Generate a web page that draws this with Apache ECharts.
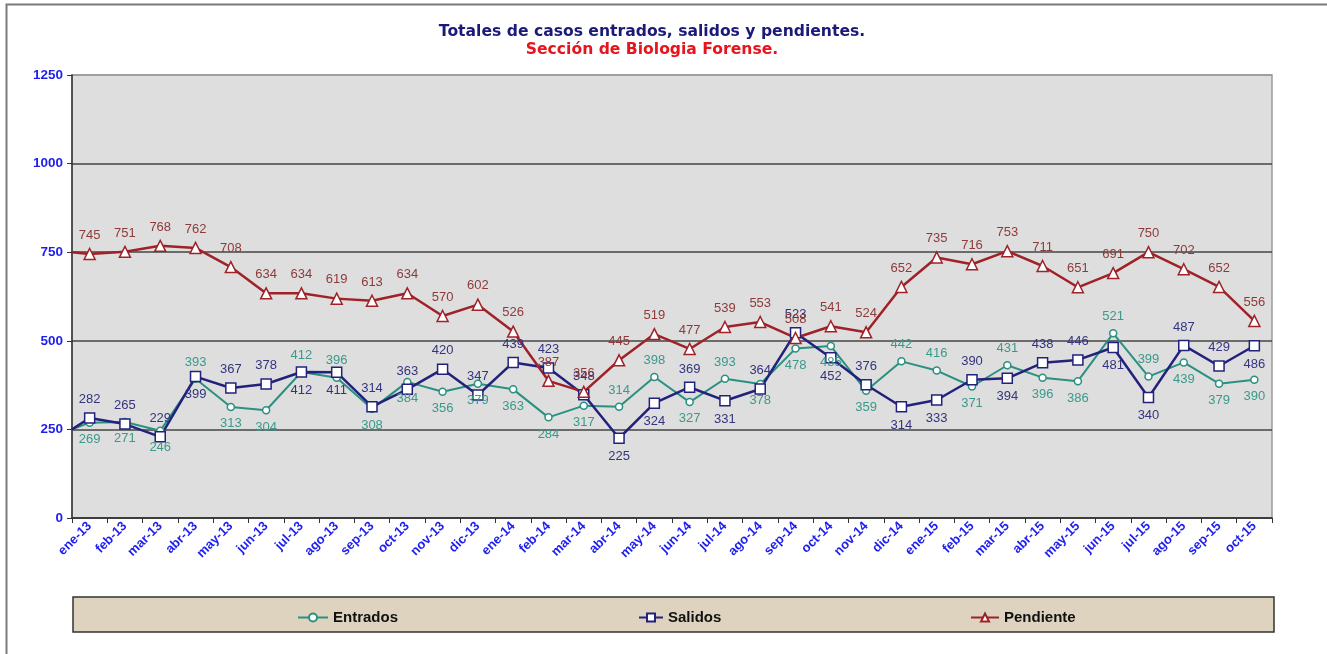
<!DOCTYPE html>
<html>
<head>
<meta charset="utf-8">
<script src="https://cdn.jsdelivr.net/npm/echarts@6/dist/echarts.min.js"></script>
<style>
    html, body { margin: 0; padding: 0; background: #fff; }
    #main { width: 1327px; height: 654px; }
</style>
</head>
<body>
<div id="main"></div>
<script>
var months = ["ene-13", "feb-13", "mar-13", "abr-13", "may-13", "jun-13", "jul-13", "ago-13", "sep-13", "oct-13", "nov-13", "dic-13",
    "ene-14", "feb-14", "mar-14", "abr-14", "may-14", "jun-14", "jul-14", "ago-14", "sep-14", "oct-14", "nov-14", "dic-14",
    "ene-15", "feb-15", "mar-15", "abr-15", "may-15", "jun-15", "jul-15", "ago-15", "sep-15", "oct-15"];

var entrados = [269, 271, 246, 393, 313, 304, 412, 396, 308, 384, 356, 379,
    363, 284, 317, 314, 398, 327, 393, 378, 478, 485, 359, 442,
    416, 371, 431, 396, 386, 521, 399, 439, 379, 390];
var salidos = [282, 265, 229, 399, 367, 378, 412, 411, 314, 363, 420, 347,
    439, 423, 348, 225, 324, 369, 331, 364, 523, 452, 376, 314,
    333, 390, 394, 438, 446, 481, 340, 487, 429, 486];
var pendiente = [745, 751, 768, 762, 708, 634, 634, 619, 613, 634, 570, 602,
    526, 387, 356, 445, 519, 477, 539, 553, 508, 541, 524, 652,
    735, 716, 753, 711, 651, 691, 750, 702, 652, 556];

// valor con el que cada línea arranca pegada al eje (mes anterior)
var entradosPrev = 250;
var salidosPrev = 250;
var pendientePrev = 750;

var yTicks = [0, 250, 500, 750, 1000, 1250];

// posición de cada etiqueta: a = arriba, b = abajo
var entradosPos = "bbbabbaabbbbbbbaababbbbaababbaabbb";
var salidosPos = "aaabaabbaaaaaaabbabaababbabaabbaab";

var labelFont = "'Liberation Sans', Arial, sans-serif";

function buildData(vals, prev, pos) {
    let d = [{ value: [0, prev], symbol: "none", label: { show: false } }];
    vals.forEach((v, i) => {
        let p = pos ? (pos[i] == "a" ? "top" : "bottom") : "top";
        d.push({ value: [i + 0.5, v], label: { position: p } });
    });
    return d;
}

function lineSeries(name, vals, prev, pos, color, labelColor, symbol, size, width) {
    return {
        name: name,
        type: "line",
        xAxisIndex: 1,
        data: buildData(vals, prev, pos),
        symbol: symbol,
        symbolSize: size,
        showAllSymbol: true,
        itemStyle: { color: "#fff", borderColor: color, borderWidth: 1.5 },
        lineStyle: { color: color, width: width },
        label: {
            show: true,
            color: labelColor,
            fontSize: 13,
            fontFamily: labelFont,
            distance: 6,
            formatter: p => p.value[1]
        }
    };
}

var chart = echarts.init(document.getElementById("main"));

var legendText = {
    fontFamily: "'Liberation Sans Narrow', 'Liberation Sans', Arial, sans-serif",
    fontWeight: "bold",
    fontSize: 15,
    color: "#111"
};

var titleFont = "'DejaVu Sans', Verdana, sans-serif";

var option = {
    animation: false,
    backgroundColor: "#fff",
    title: [
        {
            text: "Totales de casos entrados, salidos y pendientes.",
            left: 647, top: 19, textAlign: "center",
            textStyle: { color: "#1c1a78", fontSize: 15.6, fontWeight: "bold", fontFamily: titleFont }
        },
        {
            text: "Sección de Biologia Forense.",
            left: 647, top: 37, textAlign: "center",
            textStyle: { color: "#e8141c", fontSize: 15.6, fontWeight: "bold", fontFamily: titleFont }
        }
    ],
    graphic: [
        {
            type: "polyline", z: 0,
            shape: { points: [[6.5, 660], [6.5, 4.5], [1327, 4.5]] },
            style: { stroke: "#7a7a7a", lineWidth: 2, fill: null }
        },
        {
            type: "rect", z: 0,
            shape: { x: 73, y: 597, width: 1201, height: 35 },
            style: { fill: "#ddd3bf", stroke: "#333", lineWidth: 1.5 }
        }
    ],
    legend: [
        { data: ["Entrados"], left: 292, top: 605, itemWidth: 30, itemHeight: 10, itemGap: 4, z: 10, textStyle: legendText },
        { data: ["Salidos"], left: 633, top: 605, itemWidth: 24, itemHeight: 10, z: 10, textStyle: legendText },
        { data: ["Pendiente"], left: 965, top: 605, itemWidth: 28, itemHeight: 10, z: 10, textStyle: legendText }
    ],
    grid: {
        left: 72, right: 55, top: 75, bottom: 136,
        show: true,
        backgroundColor: "#dedede",
        borderColor: "#9a9a9a",
        borderWidth: 1.5
    },
    xAxis: [
        {
            type: "category",
            data: months,
            boundaryGap: true,
            axisLine: { lineStyle: { color: "#333", width: 1.5 } },
            axisTick: { show: true, length: 5, lineStyle: { color: "#333" } },
            axisLabel: {
                rotate: 45, interval: 0, margin: 6,
                color: "#1e1ef0", fontWeight: "bold", fontSize: 13, fontFamily: labelFont
            },
            splitLine: { show: false }
        },
        { type: "value", min: 0, max: months.length, show: false }
    ],
    yAxis: {
        type: "value",
        min: yTicks[0], max: yTicks[yTicks.length - 1], interval: 250,
        axisLine: { show: true, lineStyle: { color: "#333", width: 1.5 } },
        axisTick: { show: true, length: 5, lineStyle: { color: "#333" } },
        axisLabel: {
            color: "#1e1ef0", fontWeight: "bold", fontSize: 13.5, fontFamily: labelFont, margin: 9,
            formatter: v => String(v)
        },
        splitLine: { lineStyle: { color: ["#444", "#444", "#444", "#444", "#444", "#9a9a9a"], width: 1.5 } }
    },
    series: [
        lineSeries("Entrados", entrados, entradosPrev, entradosPos, "#2a9080", "#3a9a8a", "circle", 7, 2),
        lineSeries("Salidos", salidos, salidosPrev, salidosPos, "#22227c", "#34347e", "rect", 10, 2.5),
        lineSeries("Pendiente", pendiente, pendientePrev, null, "#9e2228", "#8e3a3a", "triangle", 11, 2.5)
    ]
};

chart.setOption(option);
</script>
</body>
</html>
